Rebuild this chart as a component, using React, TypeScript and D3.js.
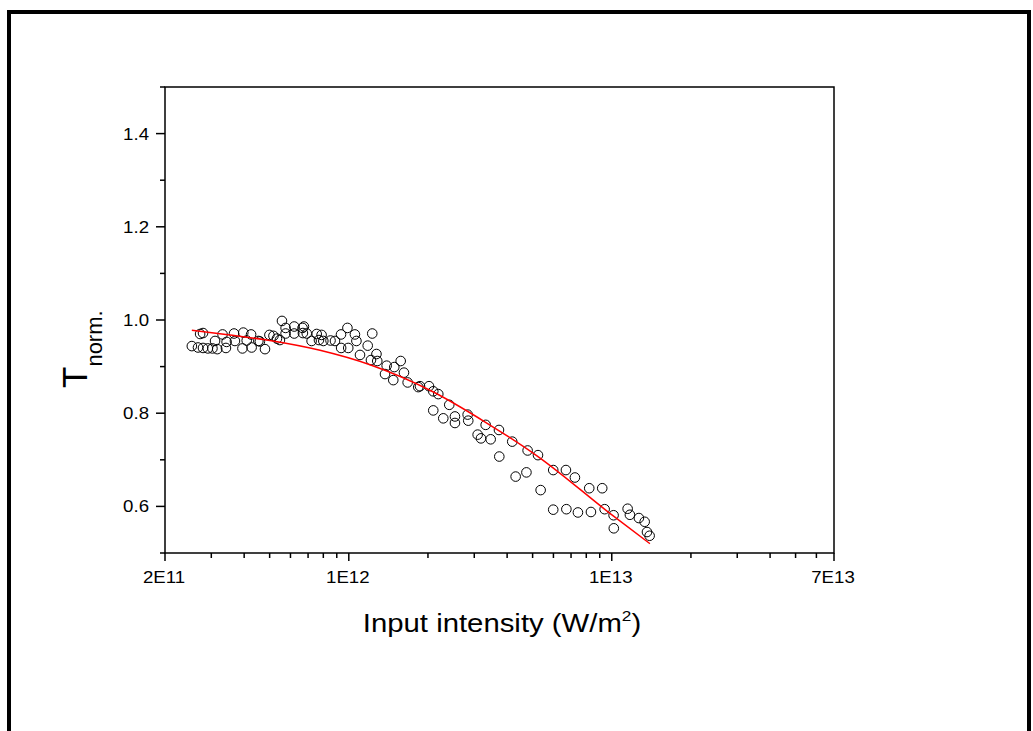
import React from "react";
import * as d3 from "d3";

// Measured points: input intensity (W/m^2) and normalised transmission
const intensity = [
  2.53e11, 2.67e11, 2.72e11, 2.79e11, 2.79e11, 2.91e11, 3.03e11, 3.10e11, 3.16e11, 3.31e11,
  3.41e11, 3.43e11, 3.66e11, 3.69e11, 3.94e11, 3.97e11, 4.09e11, 4.25e11, 4.27e11, 4.53e11,
  4.59e11, 4.80e11, 4.99e11, 5.17e11, 5.33e11, 5.47e11, 5.57e11, 5.75e11, 5.75e11, 6.20e11,
  6.20e11, 6.67e11, 6.75e11, 6.69e11, 6.92e11, 7.22e11, 7.55e11, 7.70e11, 7.88e11, 8.00e11,
  8.52e11, 8.86e11, 9.34e11, 9.35e11, 9.88e11, 9.95e11, 1.055e12, 1.069e12, 1.103e12, 1.18e12,
  1.228e12, 1.214e12, 1.274e12, 1.283e12, 1.393e12, 1.373e12, 1.489e12, 1.575e12, 1.476e12, 1.621e12,
  1.674e12, 1.837e12, 1.865e12, 2.018e12, 2.095e12, 2.189e12, 2.095e12, 2.41e12, 2.287e12, 2.533e12,
  2.533e12, 2.831e12, 2.846e12, 3.315e12, 3.09e12, 3.181e12, 3.463e12, 3.724e12, 3.735e12, 4.183e12,
  4.31e12, 4.737e12, 4.786e12, 5.241e12, 5.364e12, 5.989e12, 5.989e12, 6.694e12, 6.72e12, 7.242e12,
  7.435e12, 8.209e12, 8.333e12, 9.198e12, 9.395e12, 1.016e13, 1.018e13, 1.149e13, 1.172e13, 1.268e13,
  1.334e13, 1.361e13, 1.393e13,
];
const transmission = [
  0.944, 0.941, 0.970, 0.972, 0.940, 0.939, 0.939, 0.955, 0.9375, 0.969,
  0.940, 0.953, 0.971, 0.955, 0.939, 0.973, 0.956, 0.969, 0.941, 0.955,
  0.954, 0.9375, 0.968, 0.966, 0.960, 0.957, 0.998, 0.983, 0.971, 0.986,
  0.971, 0.983, 0.986, 0.972, 0.971, 0.955, 0.970, 0.957, 0.968, 0.955,
  0.956, 0.955, 0.969, 0.940, 0.983, 0.940, 0.969, 0.955, 0.925, 0.945,
  0.971, 0.914, 0.927, 0.912, 0.902, 0.884, 0.899, 0.912, 0.871, 0.887,
  0.866, 0.856, 0.858, 0.858, 0.847, 0.841, 0.806, 0.818, 0.789, 0.793,
  0.779, 0.797, 0.784, 0.775, 0.754, 0.746, 0.744, 0.764, 0.707, 0.739,
  0.664, 0.673, 0.720, 0.710, 0.635, 0.678, 0.593, 0.678, 0.594, 0.662,
  0.587, 0.639, 0.588, 0.639, 0.594, 0.581, 0.553, 0.595, 0.582, 0.575,
  0.567, 0.545, 0.537,
];

// Fitted curve (red)
const fitIntensity = [2.53e11, 3.53e11, 5.01e11, 7.77e11, 1.204e12, 2.089e12, 3.323e12, 5.241e12, 1.01e13, 1.397e13];
const fitT = [0.978, 0.968, 0.956, 0.935, 0.904, 0.846, 0.78, 0.707, 0.58, 0.52];

// Axes
const xDomain = [2e11, 7e13];
const yDomain = [0.5, 1.5];
const xMajorTicks = [2e11, 1e12, 1e13, 7e13];
const xMajorLabels = ["2E11", "1E12", "1E13", "7E13"];
const yMajorTicks = [0.6, 0.8, 1.0, 1.2, 1.4];
const yMajorLabels = ["0.6", "0.8", "1.0", "1.2", "1.4"];
const yMinorTicks = [0.5, 0.7, 0.9, 1.1, 1.3, 1.5];
const xTitle = "Input intensity (W/m";
const yTitleMain = "T";
const yTitleSub = "norm.";

export default function App() {
  const W = 1033;
  const H = 731;
  const left = 165, right = 834, top = 87, bottom = 553;
  const x = d3.scaleLog().domain(xDomain).range([left, right]);
  const y = d3.scaleLinear().domain(yDomain).range([bottom, top]);

  const majorSet = new Set(xMajorTicks.map((v) => Math.round(Math.log10(v) * 1000)));
  const xMinor = x.ticks().filter((v) => !majorSet.has(Math.round(Math.log10(v) * 1000)));

  const pts = intensity.map((v, i) => [v, transmission[i]] as [number, number]);
  const fit = fitIntensity.map((v, i) => [v, fitT[i]] as [number, number]);
  const line = d3
    .line<[number, number]>()
    .x((d) => x(d[0]))
    .y((d) => y(d[1]))
    .curve(d3.curveMonotoneX);

  const font = "'Liberation Sans', Arial, Helvetica, sans-serif";
  const sx = 1.13;

  return (
    <div style={{ position: "absolute", left: 0, top: 0 }}>
      <svg width={W} height={H} style={{ display: "block", background: "#fff" }} fontFamily={font}>
        <rect x={0} y={0} width={W} height={H} fill="#fff" />
        {/* outer frame */}
        <path d={`M9,${H + 5} V12 H1029 V${H + 5}`} fill="none" stroke="#000" strokeWidth={4} />

        {/* plot box */}
        <rect x={left} y={top} width={right - left} height={bottom - top} fill="none" stroke="#000" strokeWidth={1.5} />

        {/* x ticks */}
        {xMajorTicks.map((v, i) => (
          <g key={"xm" + i}>
            <line x1={x(v)} x2={x(v)} y1={bottom} y2={bottom + 8} stroke="#000" strokeWidth={1.5} />
            <text
              transform={`translate(${x(v) - 1},${583}) scale(${sx},1)`}
              textAnchor="middle"
              fontSize={16.5}
              fill="#000"
            >
              {xMajorLabels[i]}
            </text>
          </g>
        ))}
        {xMinor.map((v, i) => (
          <line key={"xn" + i} x1={x(v)} x2={x(v)} y1={bottom} y2={bottom + 5} stroke="#000" strokeWidth={1.5} />
        ))}

        {/* y ticks */}
        {yMajorTicks.map((v, i) => (
          <g key={"ym" + i}>
            <line x1={left - 9} x2={left} y1={y(v)} y2={y(v)} stroke="#000" strokeWidth={1.5} />
            <text
              transform={`translate(${149},${y(v) + 6}) scale(${sx},1)`}
              textAnchor="end"
              fontSize={16.5}
              fill="#000"
            >
              {yMajorLabels[i]}
            </text>
          </g>
        ))}
        {yMinorTicks.map((v, i) => (
          <line key={"yn" + i} x1={left - 5} x2={left} y1={y(v)} y2={y(v)} stroke="#000" strokeWidth={1.5} />
        ))}

        {/* data */}
        {pts.map((d, i) => (
          <circle key={"p" + i} cx={x(d[0])} cy={y(d[1])} r={4.8} fill="none" stroke="#000" strokeWidth={1} />
        ))}
        <path d={line(fit) || ""} fill="none" stroke="#ff0000" strokeWidth={1.5} />

        {/* x title */}
        <text transform={`translate(${502},${632}) scale(1.15,1)`} textAnchor="middle" fontSize={25.5} fill="#000">
          {xTitle}
          <tspan fontSize={15} dy={-11}>2</tspan>
          <tspan dy={11}>)</tspan>
        </text>

        {/* y title */}
        <text transform={`translate(${87},${388}) rotate(-90)`} fontSize={35} fill="#000">
          {yTitleMain}
          <tspan fontSize={22} dy={15}>{yTitleSub}</tspan>
        </text>
      </svg>
    </div>
  );
}
